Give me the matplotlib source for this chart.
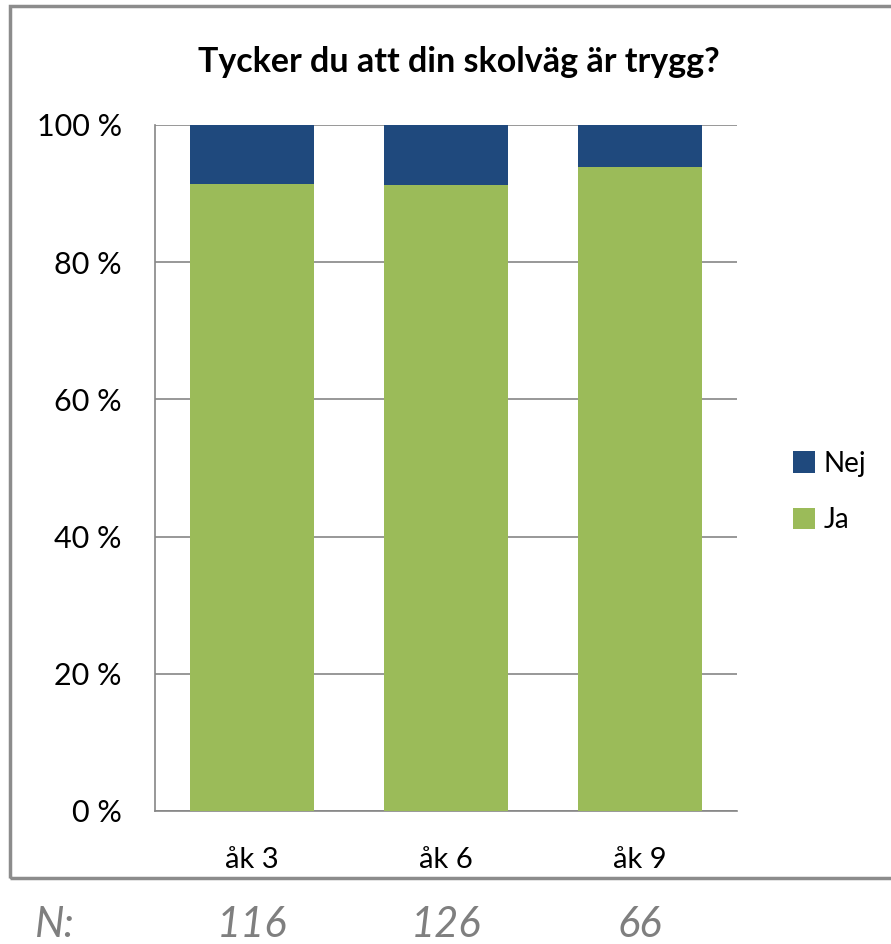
import matplotlib.pyplot as plt
from matplotlib.patches import Rectangle

categories = ["åk 3", "åk 6", "åk 9"]
n_counts = ["116", "126", "66"]
ja_values = [91.4, 91.3, 93.9]
nej_values = [8.6, 8.7, 6.1]
y_ticks = [0, 20, 40, 60, 80, 100]

plt.rcParams["font.family"] = ["Lato", "DejaVu Sans"]

fig = plt.figure(figsize=(8.91, 9.44), dpi=100)
ax = fig.add_axes([155 / 891, 1 - 811 / 944, (737 - 155) / 891, (811 - 125) / 944])

x = range(len(categories))
ax.bar(x, ja_values, width=0.64, color="#9BBB59", label="Ja", zorder=3)
ax.bar(x, nej_values, width=0.64, bottom=ja_values, color="#1F497D", label="Nej", zorder=3)

ax.set_xlim(-0.5, 2.5)
ax.set_ylim(0, 100)
ax.set_yticks(y_ticks)
ax.set_yticklabels([f"{v} %" for v in y_ticks], fontsize=22)
ax.set_xticks(list(x))
ax.set_xticklabels(categories, fontsize=21)
ax.tick_params(axis="both", length=0, colors="#000000")
ax.tick_params(axis="y", pad=24)
ax.tick_params(axis="x", pad=26)
ax.grid(axis="y", color="#868686", linewidth=1.2, zorder=0)
for side in ["top", "right"]:
    ax.spines[side].set_visible(False)
for side in ["left", "bottom"]:
    ax.spines[side].set_color("#868686")
    ax.spines[side].set_linewidth(1.2)

fig.text(459 / 891, 1 - 62 / 944, "Tycker du att din skolväg är trygg?",
         ha="center", va="center", fontsize=24.5, fontweight="bold")

handles, labels = ax.get_legend_handles_labels()
fig.legend(handles[::-1], labels[::-1], loc="center left",
           bbox_to_anchor=(793 / 891, 1 - 492 / 944), frameon=False,
           fontsize=20, handlelength=0.8, handleheight=0.8,
           labelspacing=1.1, handletextpad=0.3,
           borderpad=0, borderaxespad=0)

# outer chart frame
fig.patches.append(Rectangle((10 / 891, 1 - 878 / 944), 0.99, (878 - 6) / 944,
                             transform=fig.transFigure, fill=False,
                             edgecolor="#8c8c8c", linewidth=2.5))

# N row below the frame
fig.text(35 / 891, 1 - 925 / 944, "N:", fontsize=30, style="italic",
         color="#7f7f7f", va="center", ha="left")
for i, n in enumerate(n_counts):
    xf = ax.transData.transform((i, 0))[0] / fig.bbox.width
    fig.text(xf, 1 - 925 / 944, n, fontsize=30, style="italic",
             color="#7f7f7f", va="center", ha="center")

fig.savefig("out.png", dpi=100)
